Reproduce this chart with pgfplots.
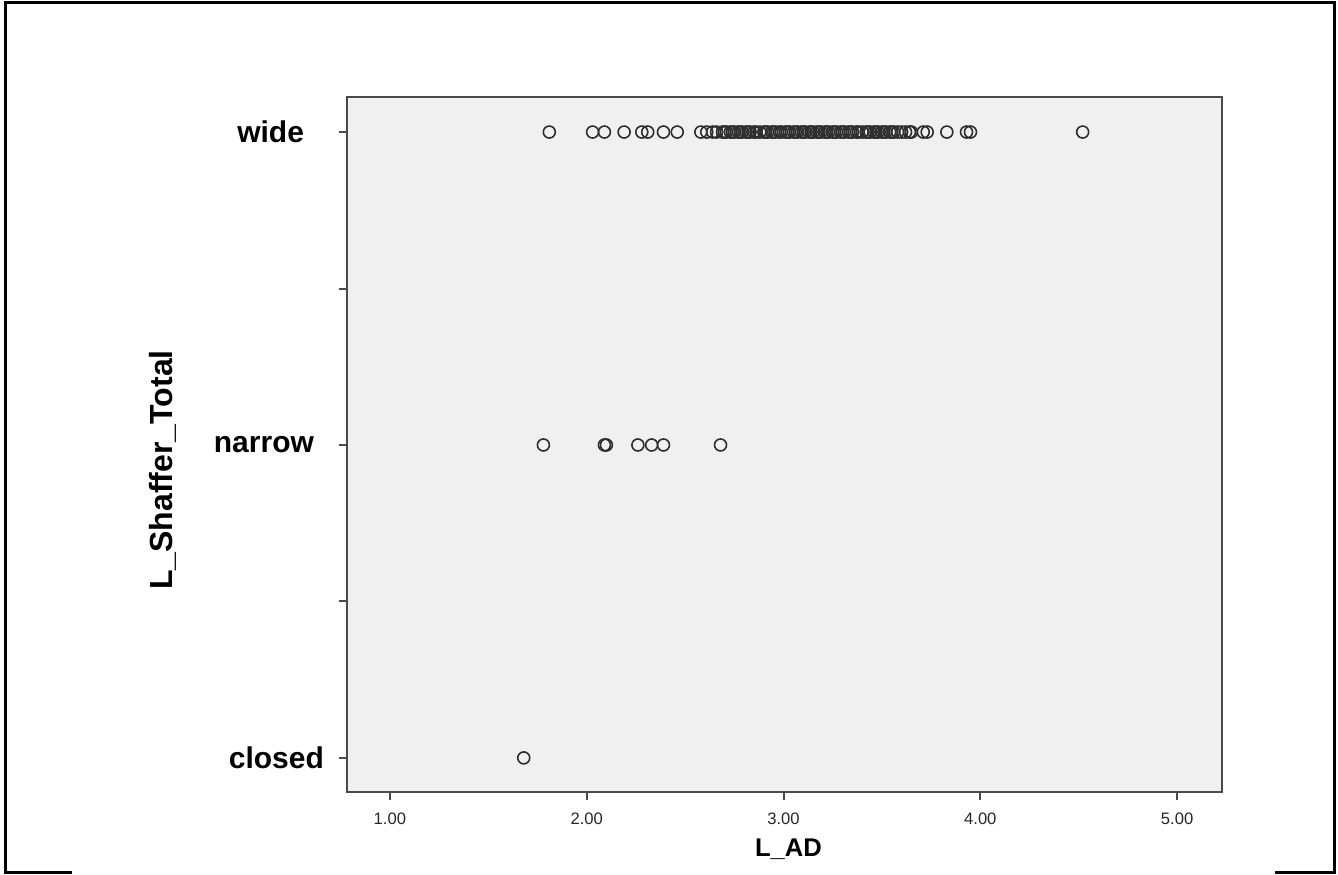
\documentclass[border=0pt]{standalone}
\usepackage{pgfplots}
\pgfplotsset{compat=1.18}
\usepackage{fontspec}
\setmainfont{Liberation Sans}
\definecolor{bg}{HTML}{F0F0F0}
\definecolor{axc}{HTML}{4A4A4A}
\definecolor{mk}{HTML}{2E2E2E}
\begin{document}
\begin{tikzpicture}
\path[use as bounding box] (-173.5pt,-41pt) rectangle (495.5pt,396pt);
\begin{axis}[
  at={(0,0)}, anchor=south west,
  scale only axis, width=437.5pt, height=347.5pt,
  xmin=0.782, xmax=5.228, ymin=-0.109, ymax=2.112,
  axis background/.style={fill=bg},
  axis line style={draw=axc, line width=1pt},
  tick style={draw=axc, line width=1pt},
  tick align=outside, major tick length=4pt,
  xtick pos=left, ytick pos=left,
  xtick={1,2,3,4,5},
  xticklabels={1.00,2.00,3.00,4.00,5.00},
  xticklabel style={font=\fontsize{8.3pt}{10pt}\selectfont, text=black!85, yshift=-3pt},
  ytick={0,0.5,1,1.5,2},
  yticklabels={closed,,narrow\kern5pt,,wide\kern10pt},
  yticklabel style={font=\fontsize{15pt}{18pt}\selectfont\bfseries, xshift=-4pt},
  every axis x label/.style={at={([xshift=2pt,yshift=-28.5pt]rel axis cs:0.5,0)}, anchor=center},
  every axis y label/.style={at={([xshift=-92pt,yshift=-12.75pt]rel axis cs:0,0.5)}, anchor=center, rotate=90},
  xlabel={\fontsize{12.8pt}{15pt}\selectfont\bfseries L\_AD},
  ylabel={\fontsize{16pt}{19pt}\selectfont\bfseries L\_Shaffer\_Total},
]
\addplot[only marks, mark=o, mark size=3pt, mark options={draw=mk, line width=0.8pt}] coordinates {
(1.68,0)
(1.78,1) (2.09,1) (2.10,1) (2.26,1) (2.33,1) (2.39,1) (2.68,1)
(1.81,2) (2.03,2) (2.09,2) (2.19,2) (2.28,2) (2.31,2) (2.39,2) (2.46,2)
(2.58,2) (2.61,2) (2.64,2) (2.66,2) (2.69,2) (2.70,2) (2.71,2) (2.73,2) (2.74,2) (2.75,2)
(2.77,2) (2.78,2) (2.79,2) (2.81,2) (2.82,2) (2.83,2) (2.85,2) (2.86,2) (2.88,2) (2.90,2)
(2.91,2) (2.92,2) (2.94,2) (2.95,2) (2.96,2) (2.98,2) (2.99,2) (3.01,2) (3.02,2) (3.03,2)
(3.05,2) (3.06,2) (3.07,2) (3.09,2) (3.10,2) (3.11,2) (3.13,2) (3.14,2) (3.15,2) (3.17,2)
(3.18,2) (3.19,2) (3.21,2) (3.22,2) (3.23,2) (3.25,2) (3.26,2) (3.27,2) (3.29,2) (3.30,2)
(3.31,2) (3.33,2) (3.34,2) (3.35,2) (3.37,2) (3.38,2) (3.40,2) (3.42,2) (3.43,2) (3.44,2)
(3.46,2) (3.47,2) (3.48,2) (3.50,2) (3.51,2) (3.52,2) (3.54,2) (3.55,2) (3.56,2) (3.58,2)
(3.60,2) (3.62,2) (3.64,2) (3.65,2)
(3.71,2) (3.73,2) (3.83,2) (3.93,2) (3.95,2) (4.52,2)
};
\end{axis}
\draw[line width=1.5pt, black] (-137.5pt,-40pt) -- (-170.5pt,-40pt) -- (-170.5pt,394.5pt) -- (493.5pt,394.5pt) -- (493.5pt,-40pt) -- (464pt,-40pt);
\end{tikzpicture}
\end{document}
